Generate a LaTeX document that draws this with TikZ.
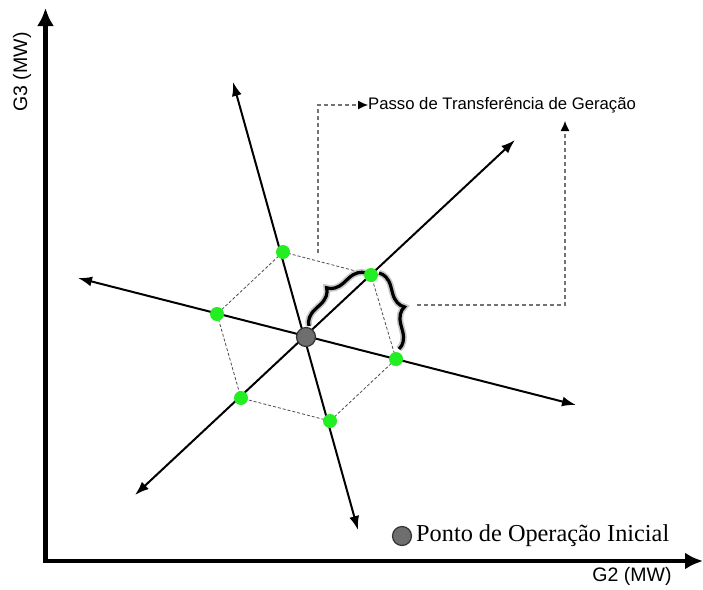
\documentclass[tikz,border=0pt]{standalone}
\usepackage{fontspec}
\setmainfont{Liberation Serif}
\newfontfamily\arialf{Liberation Sans}
\usetikzlibrary{arrows.meta,decorations.pathreplacing}
\definecolor{ptgreen}{HTML}{22EE22}
\definecolor{opgray}{HTML}{6E6E6E}
\begin{document}
\begin{tikzpicture}[x=1pt,y=-1pt,
 axis/.style={line width=4.5pt, miter limit=10, {Latex[length=18pt,width=17pt]}-{Latex[length=18pt,width=17pt]}},
 dirline/.style={line width=2pt, {Latex[length=14pt,width=10pt]}-{Latex[length=14pt,width=10pt]}},
 hexedge/.style={draw=black!70, dash pattern=on 3pt off 2pt, line width=0.8pt},
 guide/.style={draw=black!55, dash pattern=on 4pt off 3pt, line width=1.1pt, -{Latex[length=10pt,width=9pt,color=black]}},
 gdot/.style={circle, fill=ptgreen, inner sep=0pt, minimum size=14pt},
 opdot/.style={circle, fill=opgray, draw=black!80, line width=1.2pt, inner sep=0pt, minimum size=19pt},
 bracehalo/.style={decorate, decoration={brace, amplitude=16pt}, line width=6.5pt, draw=black!22},
 bracestyle/.style={decorate, decoration={brace, amplitude=16pt}, line width=3.2pt},
 sanslabel/.style={font=\arialf\fontsize{16.7}{19}\selectfont, inner sep=0pt, anchor=west},
 axlabel/.style={font=\arialf\fontsize{19.5}{22}\selectfont, inner sep=0pt},
]
\useasboundingbox (0,0) rectangle (703,589);

% axes
\coordinate (ytop) at (45.5,8);
\coordinate (orig) at (45.5,561);
\coordinate (xend) at (703,561);
\draw[axis] (ytop) -- (orig) -- (xend);
\node[axlabel, rotate=90] (g3) at (22,72) {G3 (MW)};
\node[axlabel] (g2) at (632,576) {G2 (MW)};

% direction lines
\coordinate (A1) at (233,82);
\coordinate (A2) at (358,530);
\coordinate (B1) at (515,140);
\coordinate (B2) at (135,495);
\coordinate (C1) at (78,278);
\coordinate (C2) at (576,405);
\draw[dirline] (A1) -- (A2);
\draw[dirline] (B2) -- (B1);
\draw[dirline] (C1) -- (C2);

% hexagon of green points
\coordinate (p1) at (283,252);
\coordinate (p2) at (371,275);
\coordinate (p3) at (396,359);
\coordinate (p4) at (330,421);
\coordinate (p5) at (241,398);
\coordinate (p6) at (217,314);
\draw[hexedge] (p1) -- (p2) -- (p3) -- (p4) -- (p5) -- (p6) -- cycle;

% braces
\coordinate (b1s) at (309,326);
\coordinate (b1e) at (366,273);
\coordinate (b2s) at (379,273);
\coordinate (b2e) at (399,349);
\draw[bracehalo] (b1s) -- (b1e);
\draw[bracestyle] (b1s) -- (b1e);
\draw[bracehalo] (b2s) -- (b2e);
\draw[bracestyle] (b2s) -- (b2e);

% dots
\foreach \p in {p1,p2,p3,p4,p5,p6}{\node[gdot] (d\p) at (\p) {};}
\node[opdot] (O) at (306,337) {};

% guides and label
\node[sanslabel] (passo) at (368,105) {Passo de Transferência de Geração};
\coordinate (g1s) at (318,253);
\coordinate (g1c) at (318,105);
\coordinate (g2s) at (417,305);
\coordinate (g2c) at (565,305);
\coordinate (g2e) at (565,121);
\draw[guide] (g1s) -- (g1c) -- (passo.west);
\draw[guide] (g2s) -- (g2c) -- (g2e);

% legend
\node[opdot] (leg) at (402,536) {};
\node[font=\fontsize{24.3}{28}\selectfont, inner sep=0pt, anchor=west] (legtxt) at (416,536) {Ponto de Operação Inicial};
\end{tikzpicture}
\end{document}
